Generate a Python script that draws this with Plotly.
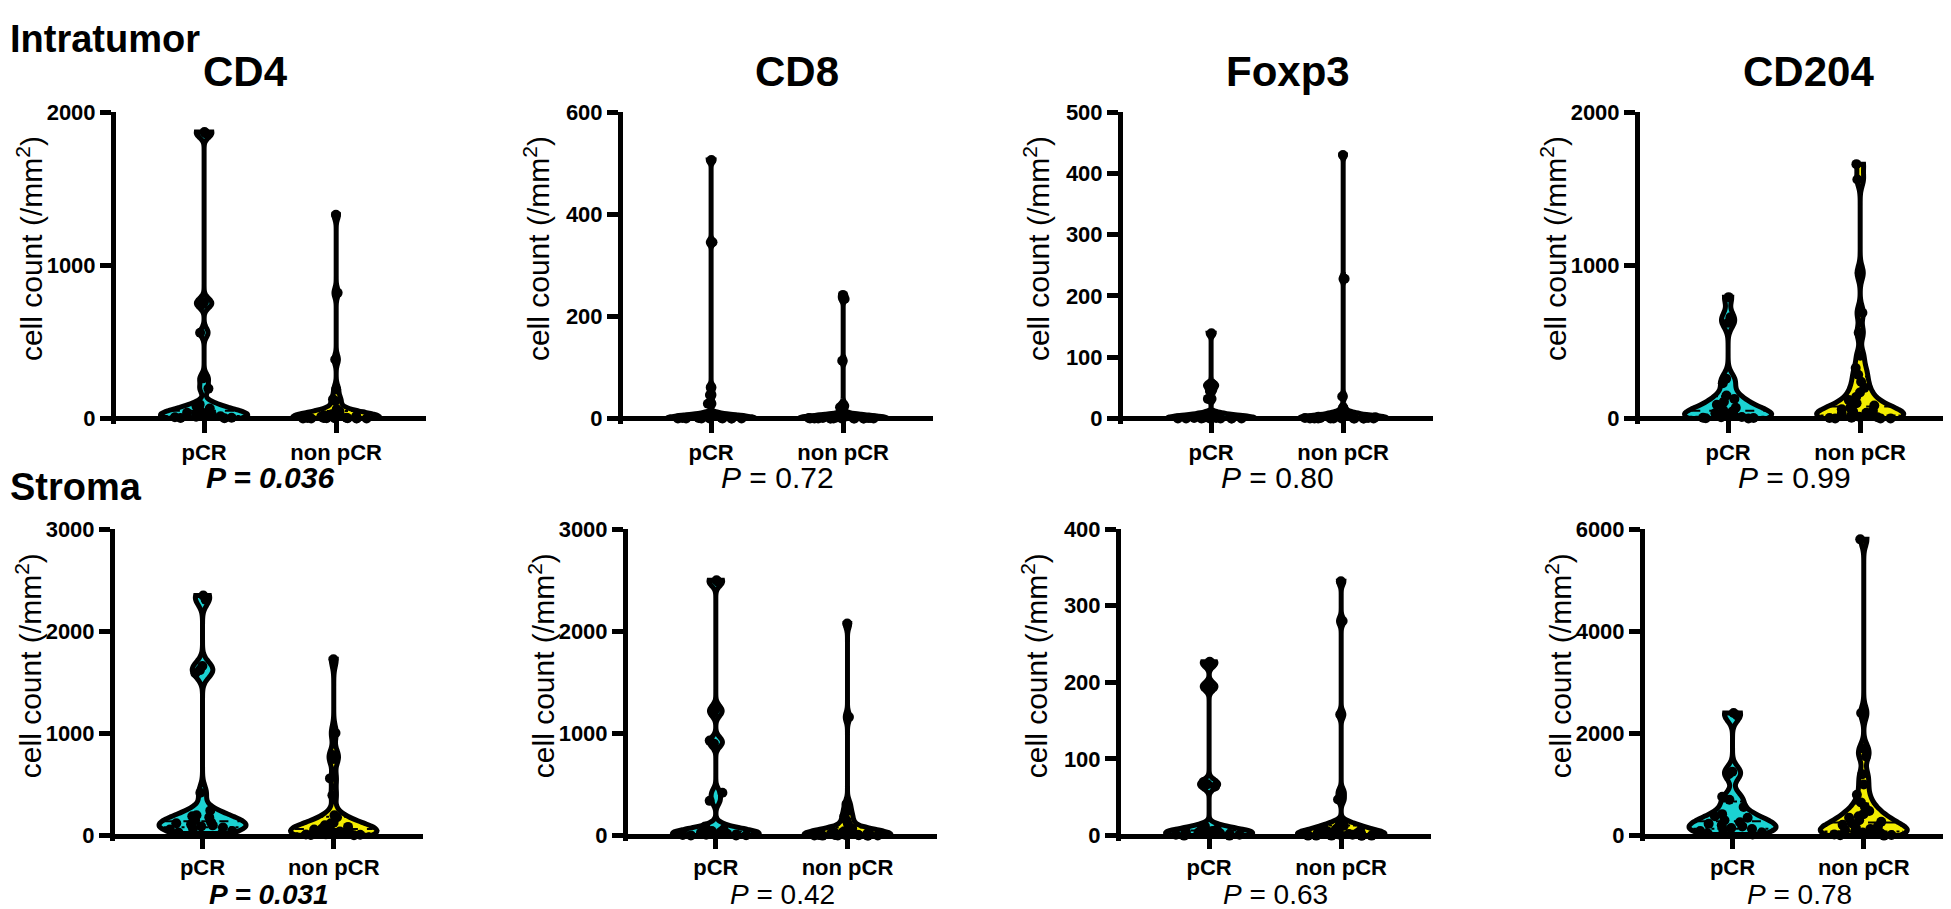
import numpy as np
import plotly.graph_objects as go

W, H = 1951, 909
GROUPS = ["pCR", "non pCR"]

# ---------------- data (cell count /mm^2) ----------------
cd4_intra_pcr = [1870, 1860, 760, 745, 560, 262, 195, 92, 80, 65, 55, 45, 38, 30, 25, 20, 15, 12, 8, 5, 3, 1]
cd4_intra_non = [1330, 820, 385, 190, 125, 115, 60, 45, 35, 28, 22, 18, 15, 12, 10, 8, 6, 5, 4, 3, 2, 2, 1, 1, 0, 0, 0, 0]

cd8_intra_pcr = [506, 345, 61, 46, 29, 8, 5, 4, 3, 2, 2, 1, 1, 1, 0, 0, 0, 0, 0, 0, 0, 0]
cd8_intra_non = [242, 234, 113, 27, 22, 6, 5, 4, 3, 3, 2, 2, 1, 1, 1, 1, 0, 0, 0, 0, 0, 0, 0, 0, 0, 0, 0, 0]

foxp3_intra_pcr = [139, 56, 53, 45, 32, 8, 6, 4, 3, 2, 2, 1, 1, 1, 0, 0, 0, 0, 0, 0, 0, 0]
foxp3_intra_non = [430, 228, 36, 18, 10, 9, 7, 5, 4, 3, 3, 2, 2, 1, 1, 1, 1, 0, 0, 0, 0, 0, 0, 0, 0, 0, 0, 0]

cd204_intra_pcr = [792, 660, 625, 260, 230, 150, 128, 110, 90, 70, 55, 45, 35, 28, 20, 15, 10, 8, 5, 3, 2, 0]
cd204_intra_non = [1660, 1560, 950, 690, 560, 410, 330, 285, 240, 200, 170, 140, 120, 100, 85, 70,
                   60, 50, 45, 38, 30, 25, 18, 12, 8, 5, 3, 0, 0, 0]

cd4_stroma_pcr = [2350, 2310, 1660, 1620, 1590, 420, 245, 200, 190, 180, 150, 130, 120, 110, 100, 90, 80, 70, 60, 45, 30, 20]
cd4_stroma_non = [1725, 1005, 790, 750, 560, 395, 200, 180, 125, 120, 100, 95, 85, 70, 60, 50, 45, 40, 35, 30,
                  25, 20, 15, 12, 10, 8, 5, 3]

cd8_stroma_pcr = [2500, 2480, 1240, 1200, 930, 900, 420, 340, 90, 60, 45, 35, 28, 22, 18, 14, 10, 8, 5, 3, 2, 1]
cd8_stroma_non = [2075, 1160, 310, 240, 190, 150, 110, 70, 45, 35, 30, 25, 20, 18, 15, 12, 10, 8, 6, 5, 4, 3,
                  2, 2, 1, 1, 0, 0]

foxp3_stroma_pcr = [227, 224, 196, 193, 70, 67, 64, 12, 10, 8, 7, 6, 5, 4, 3, 3, 2, 2, 1, 1, 0, 0]
foxp3_stroma_non = [332, 280, 158, 57, 47, 16, 14, 13, 12, 10, 9, 8, 6, 5, 4, 3, 3, 2, 2, 1, 1, 1, 0, 0, 0, 0, 0, 0]

cd204_stroma_pcr = [2400, 2350, 1250, 1200, 760, 700, 560, 420, 380, 350, 300, 260, 230, 200, 180, 150, 130,
                    110, 90, 60, 40, 20]
cd204_stroma_non = [5800, 2400, 1700, 1550, 1200, 1000, 800, 650, 560, 480, 420, 380, 350, 300, 270, 240, 210,
                    180, 150, 130, 110, 90, 75, 60, 45, 30, 20, 10, 5, 0]

markers = ["CD4", "CD8", "Foxp3", "CD204"]
row_labels = ["Intratumor", "Stroma"]
y_max_intra = [2000, 600, 500, 2000]
y_tick_intra = [1000, 200, 100, 1000]
y_max_stroma = [3000, 3000, 400, 6000]
y_tick_stroma = [1000, 1000, 100, 2000]
p_intra = ["0.036", "0.72", "0.80", "0.99"]
p_stroma = ["0.031", "0.42", "0.63", "0.78"]
p_significant_intra = [True, False, False, False]
p_significant_stroma = [True, False, False, False]

data_intra = [(cd4_intra_pcr, cd4_intra_non), (cd8_intra_pcr, cd8_intra_non),
              (foxp3_intra_pcr, foxp3_intra_non), (cd204_intra_pcr, cd204_intra_non)]
data_stroma = [(cd4_stroma_pcr, cd4_stroma_non), (cd8_stroma_pcr, cd8_stroma_non),
               (foxp3_stroma_pcr, foxp3_stroma_non), (cd204_stroma_pcr, cd204_stroma_non)]

# kernel bandwidths (smoothing style per panel)
bw_intra = [30, 5, 4, 45]
bw_stroma = [70, 45, 5, 130]

# ---------------- layout geometry (pixels) ----------------
col_x_top = [(108, 418), (615, 925), (1115, 1425), (1632, 1942)]
col_x_bot = [(107, 415), (620, 929), (1113, 1423), (1637, 1945)]
row_y = [(94, 407), (520, 833)]  # (top of axis, zero line)
x_ticklen = [12, 10]
p_y = [467, 893]
p_size = [30, 28]
title_x = [237, 789, 1280, 1800]
PAD = 6
HALF_W = 0.33

CYAN = "#1BD2D2"
YELLOW = "#F4EC00"
FONT = "Liberation Sans"


def kde_halfwidth(vals, bw, yq):
    v = np.asarray(vals, dtype=float)
    grid = np.linspace(v.min(), v.max(), 3000)
    dens = np.exp(-0.5 * ((grid[:, None] - v[None, :]) / bw) ** 2).sum(axis=1)
    dq = np.exp(-0.5 * ((np.atleast_1d(yq)[:, None] - v[None, :]) / bw) ** 2).sum(axis=1)
    return HALF_W * dq / dens.max()


fig = go.Figure()
layout = dict(
    width=W, height=H, margin=dict(l=0, r=0, t=0, b=0),
    paper_bgcolor="white", plot_bgcolor="rgba(0,0,0,0)",
    showlegend=False, violinmode="overlay", annotations=[],
    font=dict(family=FONT, color="black"),
)

k = 0
for r in range(2):
    data = data_intra if r == 0 else data_stroma
    ymaxs = y_max_intra if r == 0 else y_max_stroma
    yticks = y_tick_intra if r == 0 else y_tick_stroma
    pvals = p_intra if r == 0 else p_stroma
    psig = p_significant_intra if r == 0 else p_significant_stroma
    bws = bw_intra if r == 0 else bw_stroma
    cols = col_x_top if r == 0 else col_x_bot
    ytop, yzero = row_y[r]
    for c in range(4):
        k += 1
        xa = f"x{k}"
        ya = f"y{k}"
        x0, x1 = cols[c]
        ymax = ymaxs[c]
        span = yzero - ytop
        eps = ymax * PAD / span
        bw = bws[c]
        for gi, (g, vals, col) in enumerate(zip(GROUPS, data[c], [CYAN, YELLOW])):
            fig.add_trace(go.Violin(
                x=[gi] * len(vals), y=vals, xaxis=xa, yaxis=ya, name=g,
                fillcolor=col, line=dict(color="black", width=5),
                points="all", pointpos=0, jitter=0.9,
                marker=dict(color="black", size=10, line=dict(width=0)),
                spanmode="hard", bandwidth=bw, width=2 * HALF_W, scalemode="width",
                hoverinfo="skip", showlegend=False,
            ))
        # median (dashed) and quartile (dotted) lines inside each violin
        for gi, vals in enumerate(data[c]):
            q1, med, q3 = np.percentile(vals, [25, 50, 75])
            for q, dash in [(med, "dash"), (q1, "dot"), (q3, "dot")]:
                hw = float(kde_halfwidth(vals, bw, q)[0])
                if hw * 132 < 6:
                    continue
                fig.add_trace(go.Scatter(
                    x=[gi - hw * 0.92, gi + hw * 0.92], y=[q, q], xaxis=xa, yaxis=ya,
                    mode="lines", line=dict(color="black", width=2, dash=dash),
                    hoverinfo="skip", showlegend=False,
                ))
        sfx = "" if k == 1 else str(k)
        layout["xaxis" + sfx] = dict(
            domain=[x0 / W, x1 / W], anchor="free", position=1 - yzero / H,
            tickmode="array", tickvals=[0, 1], ticktext=GROUPS,
            range=[-0.667, 1.68], showline=True, linewidth=5, linecolor="black",
            ticks="outside", ticklen=x_ticklen[r], tickwidth=5, tickcolor="black",
            tickfont=dict(family=FONT, size=22, weight="bold", color="black"),
            showgrid=False, zeroline=False, fixedrange=True,
        )
        layout["yaxis" + sfx] = dict(
            domain=[1 - (yzero + PAD) / H, 1 - ytop / H], anchor=xa,
            range=[-eps, ymax], tickmode="linear", tick0=0, dtick=yticks[c],
            showline=True, linewidth=5, linecolor="black",
            ticks="outside", ticklen=11, tickwidth=5, tickcolor="black",
            tickfont=dict(family=FONT, size=22, weight="bold", color="black"),
            showgrid=False, zeroline=False, fixedrange=True,
        )
        # y-axis title
        layout["annotations"].append(dict(
            text="cell count (/mm<sup>2</sup>)", xref="paper", yref="paper",
            x=(x0 - 86) / W, y=1 - (ytop + 140) / H, textangle=-90,
            xanchor="center", yanchor="middle", showarrow=False,
            font=dict(family=FONT, size=30, color="black"),
        ))
        # p value
        pc = (x0 + 88 + x0 + 220) / 2
        ptxt = f"<b><i>P = {pvals[c]}</i></b>" if psig[c] else f"<i>P</i> = {pvals[c]}"
        layout["annotations"].append(dict(
            text=ptxt, xref="paper", yref="paper", x=pc / W, y=1 - p_y[r] / H,
            xanchor="center", yanchor="middle", showarrow=False,
            font=dict(family=FONT, size=p_size[r], color="black"),
        ))
        if r == 0:
            layout["annotations"].append(dict(
                text=f"<b>{markers[c]}</b>", xref="paper", yref="paper",
                x=title_x[c] / W, y=1 - 53 / H, xanchor="center", yanchor="middle",
                showarrow=False, font=dict(family=FONT, size=42, color="black"),
            ))

for lbl, yc in zip(row_labels, [19, 477]):
    layout["annotations"].append(dict(
        text=f"<b>{lbl}</b>", xref="paper", yref="paper", x=0, y=1 - yc / H,
        xanchor="left", yanchor="middle", showarrow=False,
        font=dict(family=FONT, size=38, color="black"),
    ))

fig.update_layout(**layout)
fig.write_html("out.html")
